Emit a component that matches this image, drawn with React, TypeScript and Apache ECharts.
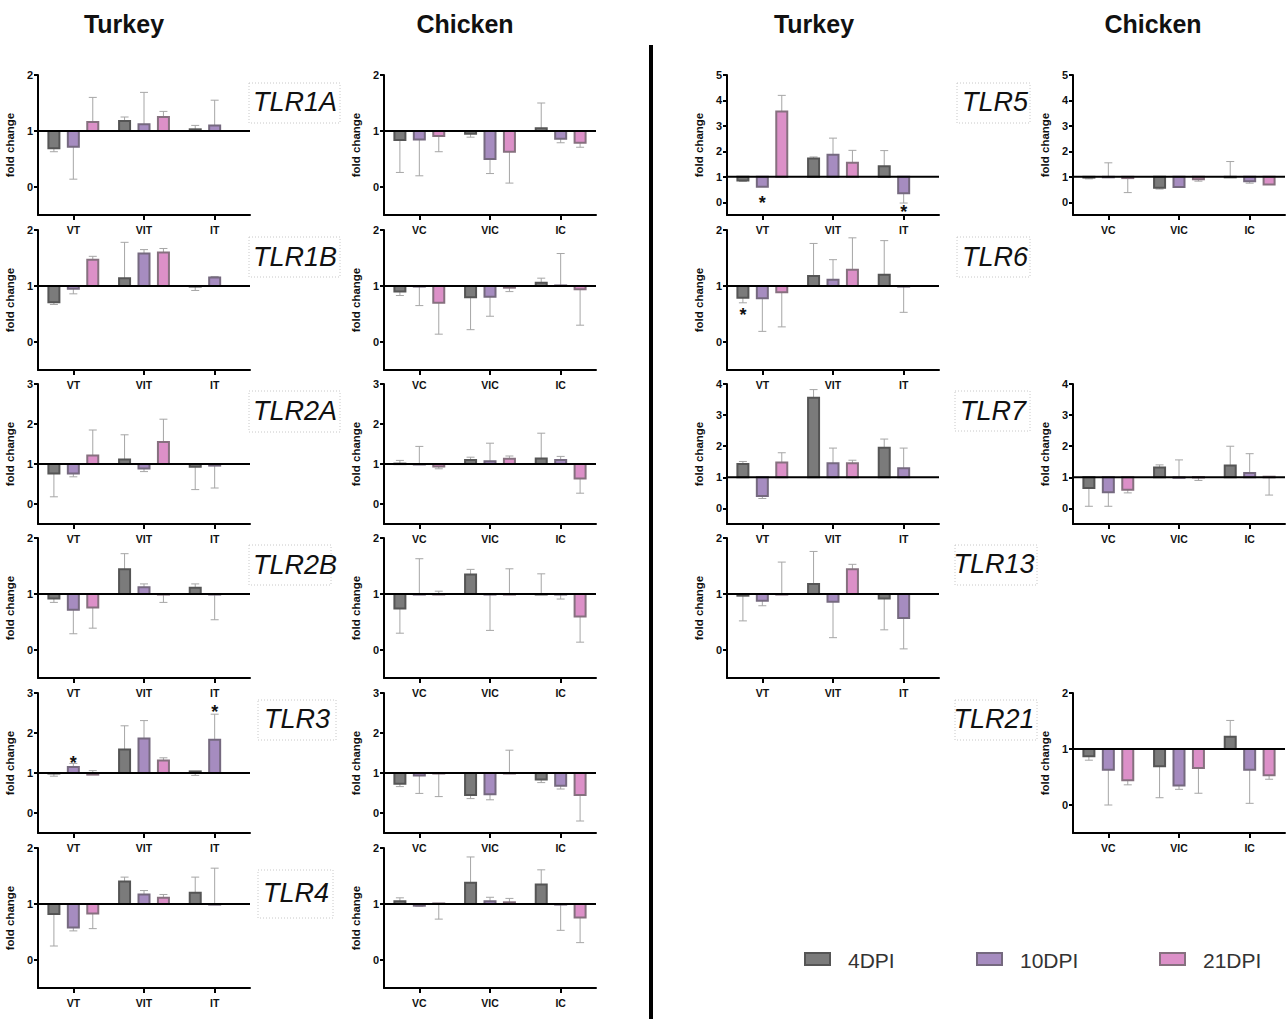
import React, { useEffect, useRef } from "react";
import * as echarts from "echarts";

// ---------- data ----------
const DPI = ["4DPI", "10DPI", "21DPI"];
const TURKEY_CATS = ["VT", "VIT", "IT"];
const CHICKEN_CATS = ["VC", "VIC", "IC"];
const TICKS_2 = [0, 1, 2];
const TICKS_3 = [0, 1, 2, 3];
const TICKS_4 = [0, 1, 2, 3, 4];
const TICKS_5 = [0, 1, 2, 3, 4, 5];
const HEADERS = ["Turkey", "Chicken", "Turkey", "Chicken"];

// [dpi][category]  (bar value = mean fold change, err = end of error whisker)
const TLR1A_T_MEAN = [[0.69, 1.18, 1.03], [0.72, 1.12, 1.1], [1.16, 1.25, null]];
const TLR1A_T_ERR = [[0.63, 1.25, 1.1], [0.14, 1.69, 1.55], [1.6, 1.35, null]];
const TLR1A_C_MEAN = [[0.84, 0.95, 1.05], [0.85, 0.5, 0.86], [0.91, 0.63, 0.79]];
const TLR1A_C_ERR = [[0.26, 0.89, 1.5], [0.2, 0.24, 0.79], [0.63, 0.07, 0.71]];

const TLR1B_T_MEAN = [[0.71, 1.14, 0.99], [0.95, 1.58, 1.15], [1.47, 1.6, null]];
const TLR1B_T_ERR = [[0.67, 1.78, 0.92], [0.86, 1.65, 1.17], [1.53, 1.67, null]];
const TLR1B_C_MEAN = [[0.9, 0.8, 1.06], [0.99, 0.81, 1.01], [0.7, 0.97, 0.94]];
const TLR1B_C_ERR = [[0.83, 0.22, 1.14], [0.65, 0.46, 1.58], [0.14, 0.9, 0.3]];

const TLR2A_T_MEAN = [[0.76, 1.11, 0.93], [0.76, 0.89, 0.96], [1.21, 1.55, null]];
const TLR2A_T_ERR = [[0.18, 1.73, 0.36], [0.68, 0.81, 0.4], [1.85, 2.12, null]];
const TLR2A_C_MEAN = [[1.01, 1.1, 1.14], [1.0, 1.07, 1.1], [0.94, 1.13, 0.64]];
const TLR2A_C_ERR = [[1.09, 1.17, 1.77], [1.44, 1.52, 1.19], [0.88, 1.2, 0.27]];

const TLR2B_T_MEAN = [[0.92, 1.44, 1.11], [0.72, 1.12, 0.99], [0.76, 0.99, null]];
const TLR2B_T_ERR = [[0.85, 1.72, 1.18], [0.29, 1.18, 0.54], [0.39, 0.85, null]];
const TLR2B_C_MEAN = [[0.74, 1.35, 1.0], [0.99, 0.99, 0.99], [1.0, 0.99, 0.6]];
const TLR2B_C_ERR = [[0.3, 1.44, 1.36], [1.63, 0.35, 0.91], [1.05, 1.45, 0.14]];

const TLR3_T_MEAN = [[1.0, 1.59, 1.04], [1.15, 1.86, 1.83], [0.96, 1.31, null]];
const TLR3_T_ERR = [[0.92, 2.18, 0.94], [1.24, 2.31, 2.47], [1.06, 1.38, null]];
const TLR3_C_MEAN = [[0.73, 0.45, 0.84], [0.94, 0.47, 0.68], [0.99, 1.0, 0.45]];
const TLR3_C_ERR = [[0.66, 0.36, 0.76], [0.49, 0.33, 0.6], [0.41, 1.57, -0.2]];

const TLR4_T_MEAN = [[0.82, 1.4, 1.2], [0.58, 1.17, 0.99], [0.83, 1.11, null]];
const TLR4_T_ERR = [[0.25, 1.48, 1.48], [0.52, 1.24, 1.64], [0.56, 1.17, null]];
const TLR4_C_MEAN = [[1.05, 1.38, 1.35], [0.97, 1.05, 0.99], [1.01, 1.03, 0.76]];
const TLR4_C_ERR = [[1.11, 1.84, 1.61], [0.96, 1.12, 0.53], [0.73, 1.1, 0.31]];

const TLR5_T_MEAN = [[0.86, 1.72, 1.42], [0.61, 1.87, 0.35], [3.57, 1.55, null]];
const TLR5_T_ERR = [[0.82, 1.78, 2.03], [0.6, 2.52, -0.03], [4.2, 2.04, null]];
const TLR5_C_MEAN = [[0.97, 0.57, 0.99], [0.98, 0.6, 0.83], [0.95, 0.9, 0.7]];
const TLR5_C_ERR = [[0.92, 0.52, 1.6], [1.55, 0.6, 0.75], [0.38, 0.83, 0.7]];

const TLR6_T_MEAN = [[0.79, 1.18, 1.2], [0.78, 1.11, 0.99], [0.89, 1.29, null]];
const TLR6_T_ERR = [[0.7, 1.76, 1.81], [0.19, 1.47, 0.53], [0.27, 1.86, null]];

const TLR7_T_MEAN = [[1.43, 3.56, 1.95], [0.4, 1.45, 1.29], [1.48, 1.45, null]];
const TLR7_T_ERR = [[1.51, 3.82, 2.23], [0.32, 1.94, 1.94], [1.79, 1.55, null]];
const TLR7_C_MEAN = [[0.66, 1.32, 1.38], [0.52, 0.99, 1.14], [0.6, 1.01, 1.02]];
const TLR7_C_ERR = [[0.07, 1.4, 2.0], [0.07, 1.56, 1.76], [0.5, 0.9, 0.43]];

const TLR13_T_MEAN = [[0.97, 1.18, 0.92], [0.88, 0.86, 0.57], [0.99, 1.44, null]];
const TLR13_T_ERR = [[0.52, 1.76, 0.36], [0.79, 0.22, 0.02], [1.57, 1.53, null]];

const TLR21_C_MEAN = [[0.87, 0.69, 1.22], [0.63, 0.35, 0.63], [0.44, 0.66, 0.53]];
const TLR21_C_ERR = [[0.8, 0.13, 1.51], [0.0, 0.28, 0.03], [0.36, 0.21, 0.46]];

// significance stars: [category, dpi, y position]
const TLR3_T_STARS = [[0, 1, 1.36], [2, 1, 2.62]];
const TLR5_T_STARS = [[0, 1, 0.13], [2, 1, -0.22]];
const TLR6_T_STARS = [[0, 0, 0.55]];

// ---------- layout / style ----------
const FONT = "Liberation Sans";
const FILL = ["#7b7b7b", "#a68cc0", "#dc90c8"];
const STROKE = ["#555555", "#75697f", "#86707f"];
const ERR_COLOR = "#a6a6a6";
const COL_X = [38, 384, 727, 1073];
const ROW_Y = [75, 230, 384, 538, 693, 848];
const GRID_W = 212;
const GRID_H = 140;

type Panel = {
  col: number;
  row: number;
  cats: string[];
  max: number;
  ticks: number[];
  mean: (number | null)[][];
  err: (number | null)[][];
  stars?: number[][];
};

const PANELS: Panel[] = [
  { col: 0, row: 0, cats: TURKEY_CATS, max: 2, ticks: TICKS_2, mean: TLR1A_T_MEAN, err: TLR1A_T_ERR },
  { col: 1, row: 0, cats: CHICKEN_CATS, max: 2, ticks: TICKS_2, mean: TLR1A_C_MEAN, err: TLR1A_C_ERR },
  { col: 0, row: 1, cats: TURKEY_CATS, max: 2, ticks: TICKS_2, mean: TLR1B_T_MEAN, err: TLR1B_T_ERR },
  { col: 1, row: 1, cats: CHICKEN_CATS, max: 2, ticks: TICKS_2, mean: TLR1B_C_MEAN, err: TLR1B_C_ERR },
  { col: 0, row: 2, cats: TURKEY_CATS, max: 3, ticks: TICKS_3, mean: TLR2A_T_MEAN, err: TLR2A_T_ERR },
  { col: 1, row: 2, cats: CHICKEN_CATS, max: 3, ticks: TICKS_3, mean: TLR2A_C_MEAN, err: TLR2A_C_ERR },
  { col: 0, row: 3, cats: TURKEY_CATS, max: 2, ticks: TICKS_2, mean: TLR2B_T_MEAN, err: TLR2B_T_ERR },
  { col: 1, row: 3, cats: CHICKEN_CATS, max: 2, ticks: TICKS_2, mean: TLR2B_C_MEAN, err: TLR2B_C_ERR },
  { col: 0, row: 4, cats: TURKEY_CATS, max: 3, ticks: TICKS_3, mean: TLR3_T_MEAN, err: TLR3_T_ERR, stars: TLR3_T_STARS },
  { col: 1, row: 4, cats: CHICKEN_CATS, max: 3, ticks: TICKS_3, mean: TLR3_C_MEAN, err: TLR3_C_ERR },
  { col: 0, row: 5, cats: TURKEY_CATS, max: 2, ticks: TICKS_2, mean: TLR4_T_MEAN, err: TLR4_T_ERR },
  { col: 1, row: 5, cats: CHICKEN_CATS, max: 2, ticks: TICKS_2, mean: TLR4_C_MEAN, err: TLR4_C_ERR },
  { col: 2, row: 0, cats: TURKEY_CATS, max: 5, ticks: TICKS_5, mean: TLR5_T_MEAN, err: TLR5_T_ERR, stars: TLR5_T_STARS },
  { col: 3, row: 0, cats: CHICKEN_CATS, max: 5, ticks: TICKS_5, mean: TLR5_C_MEAN, err: TLR5_C_ERR },
  { col: 2, row: 1, cats: TURKEY_CATS, max: 2, ticks: TICKS_2, mean: TLR6_T_MEAN, err: TLR6_T_ERR, stars: TLR6_T_STARS },
  { col: 2, row: 2, cats: TURKEY_CATS, max: 4, ticks: TICKS_4, mean: TLR7_T_MEAN, err: TLR7_T_ERR },
  { col: 3, row: 2, cats: CHICKEN_CATS, max: 4, ticks: TICKS_4, mean: TLR7_C_MEAN, err: TLR7_C_ERR },
  { col: 2, row: 3, cats: TURKEY_CATS, max: 2, ticks: TICKS_2, mean: TLR13_T_MEAN, err: TLR13_T_ERR },
  { col: 3, row: 4, cats: CHICKEN_CATS, max: 2, ticks: TICKS_2, mean: TLR21_C_MEAN, err: TLR21_C_ERR },
];

// gene label boxes: [text, centerX, centerY, boxX, boxY, boxW, boxH]
const GENE_LABELS: [string, number, number, number, number, number, number][] = [
  ["TLR1A", 295, 102, 249, 83, 91, 40],
  ["TLR1B", 295, 257, 249, 237, 91, 40],
  ["TLR2A", 295, 411, 249, 391, 91, 41],
  ["TLR2B", 295, 565, 249, 545, 82, 40],
  ["TLR3", 297, 719, 258, 700, 78, 40],
  ["TLR4", 296, 893, 258, 870, 75, 48],
  ["TLR5", 995, 102, 957, 83, 73, 40],
  ["TLR6", 995, 257, 957, 237, 73, 40],
  ["TLR7", 993, 411, 955, 391, 75, 40],
  ["TLR13", 994, 564, 955, 545, 82, 40],
  ["TLR21", 994, 719, 955, 700, 82, 40],
];

function barRenderer(d: number) {
  return (params: any, api: any) => {
    const cat = api.value(0);
    const v = api.value(1);
    const e = api.value(2);
    const band = api.size([1, 0])[0];
    const base = api.coord([cat, 1]);
    const cx = base[0] + (d - 1) * band * 0.275;
    const yv = api.coord([cat, v])[1];
    const ye = api.coord([cat, e])[1];
    const w = 11;
    const children: any[] = [];
    if (Math.abs(ye - yv) > 0.5) {
      children.push({
        type: "line",
        shape: { x1: cx, y1: yv, x2: cx, y2: ye },
        style: { stroke: ERR_COLOR, lineWidth: 1 },
      });
      children.push({
        type: "line",
        shape: { x1: cx - 4, y1: ye, x2: cx + 4, y2: ye },
        style: { stroke: ERR_COLOR, lineWidth: 1 },
      });
    }
    children.push({
      type: "rect",
      shape: { x: cx - w / 2, y: Math.min(base[1], yv), width: w, height: Math.max(Math.abs(yv - base[1]), 0.5) },
      style: { fill: FILL[d], stroke: STROKE[d], lineWidth: 2 },
    });
    return { type: "group", children };
  };
}

function baselineRenderer(params: any, api: any) {
  const cs = params.coordSys;
  const y = api.coord([0, 1])[1];
  return {
    type: "line",
    shape: { x1: cs.x, y1: y, x2: cs.x + cs.width, y2: y },
    style: { stroke: "#000", lineWidth: 2 },
  };
}

function starRenderer(params: any, api: any) {
  const cat = api.value(0);
  const d = api.value(1);
  const band = api.size([1, 0])[0];
  const p = api.coord([cat, api.value(2)]);
  return {
    type: "text",
    x: p[0] + (d - 1) * band * 0.275,
    y: p[1] + 4,
    style: {
      text: "*",
      fontSize: 18,
      fontWeight: "bold",
      fontFamily: FONT,
      fill: "#111",
      align: "center",
      verticalAlign: "middle",
    },
  };
}

function buildOption() {
  const grid: any[] = [];
  const xAxis: any[] = [];
  const yAxis: any[] = [];
  const series: any[] = [];

  PANELS.forEach((p, i) => {
    grid.push({ left: COL_X[p.col], top: ROW_Y[p.row], width: GRID_W, height: GRID_H });
    xAxis.push({
      type: "category",
      gridIndex: i,
      data: p.cats,
      boundaryGap: true,
      axisLine: { onZero: false, lineStyle: { color: "#000", width: 2 } },
      axisTick: { show: true, alignWithLabel: true, length: 5, lineStyle: { color: "#000", width: 2 } },
      axisLabel: { color: "#111", fontSize: 10.5, fontWeight: "bold", fontFamily: FONT, margin: 9 },
      splitLine: { show: false },
    });
    yAxis.push({
      type: "value",
      gridIndex: i,
      min: -0.5,
      max: p.max,
      name: "fold change",
      nameLocation: "middle",
      nameRotate: 90,
      nameGap: 22,
      nameTextStyle: { color: "#111", fontSize: 11.5, fontWeight: "bold", fontFamily: FONT },
      axisLine: { show: true, lineStyle: { color: "#000", width: 2 } },
      axisTick: { show: true, length: 4, customValues: p.ticks, lineStyle: { color: "#000", width: 2 } },
      axisLabel: { color: "#111", fontSize: 11, fontWeight: "bold", fontFamily: FONT, margin: 5, customValues: p.ticks },
      splitLine: { show: false },
    });
    DPI.forEach((name, d) => {
      const data: any[] = [];
      p.cats.forEach((c, k) => {
        const m = p.mean[d][k];
        if (m == null) return;
        const e = p.err[d][k];
        data.push([k, m, e == null ? m : e, d]);
      });
      series.push({
        type: "custom",
        name,
        xAxisIndex: i,
        yAxisIndex: i,
        z: 2,
        clip: false,
        renderItem: barRenderer(d),
        encode: { x: 0, y: 1 },
        data,
      });
    });
    series.push({
      type: "custom",
      xAxisIndex: i,
      yAxisIndex: i,
      z: 3,
      renderItem: baselineRenderer,
      encode: { x: 0, y: 1 },
      data: [[0, 1]],
    });
    if (p.stars) {
      series.push({
        type: "custom",
        xAxisIndex: i,
        yAxisIndex: i,
        z: 4,
        clip: false,
        renderItem: starRenderer,
        encode: { x: 0, y: 2 },
        data: p.stars,
      });
    }
  });

  const graphic: any[] = [];
  const headerX = [124, 465, 814, 1153];
  HEADERS.forEach((h, i) => {
    graphic.push({
      type: "text",
      x: headerX[i],
      y: 24,
      style: { text: h, fontSize: 25, fontWeight: "bold", fontFamily: FONT, fill: "#111", align: "center", verticalAlign: "middle" },
    });
  });
  graphic.push({ type: "rect", shape: { x: 649, y: 45, width: 4, height: 980 }, style: { fill: "#000" } });
  GENE_LABELS.forEach(([t, cx, cy, bx, by, bw, bh]) => {
    graphic.push({
      type: "rect",
      shape: { x: bx, y: by, width: bw, height: bh },
      style: { fill: "none", stroke: "#c8c8c8", lineWidth: 1, lineDash: [1, 2] },
    });
    graphic.push({
      type: "text",
      x: cx,
      y: cy,
      style: { text: t, fontSize: 27, fontStyle: "italic", fontFamily: FONT, fill: "#111", align: "center", verticalAlign: "middle" },
    });
  });
  const legX = [805, 977, 1160];
  DPI.forEach((name, d) => {
    graphic.push({
      type: "rect",
      shape: { x: legX[d], y: 953, width: 25, height: 12 },
      style: { fill: FILL[d], stroke: STROKE[d], lineWidth: 2 },
    });
    graphic.push({
      type: "text",
      x: legX[d] + 43,
      y: 960,
      style: { text: name, fontSize: 21, fontFamily: FONT, fill: "#333", align: "left", verticalAlign: "middle" },
    });
  });

  return {
    animation: false,
    backgroundColor: "#fff",
    textStyle: { fontFamily: FONT },
    grid,
    xAxis,
    yAxis,
    series,
    graphic,
  };
}

export default function App() {
  const ref = useRef<HTMLDivElement>(null);
  useEffect(() => {
    if (!ref.current) return;
    const chart = echarts.init(ref.current, null, { renderer: "svg" });
    chart.setOption(buildOption() as any);
    return () => chart.dispose();
  }, []);
  return (
    <div
      ref={ref}
      style={{ position: "fixed", left: 0, top: 0, width: 1288, height: 1019, background: "#fff" }}
    />
  );
}
